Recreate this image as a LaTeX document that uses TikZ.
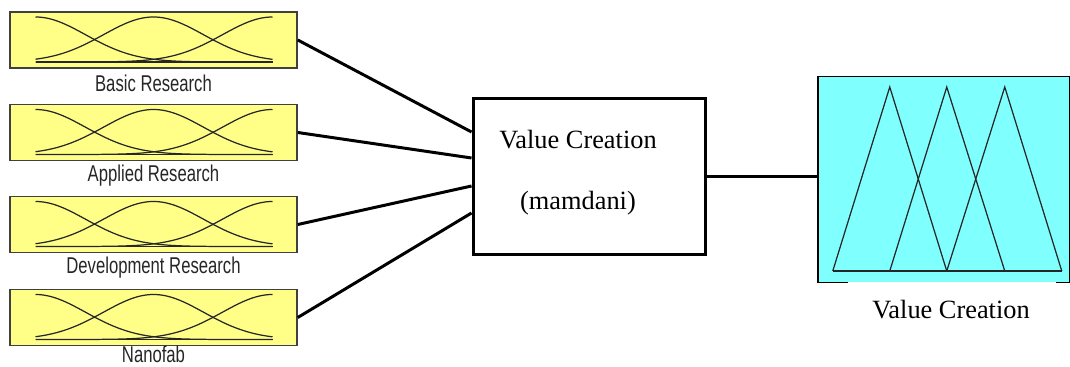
\documentclass[tikz,border=0pt]{standalone}
\usepackage{fontspec}
\setmainfont{Liberation Serif}
\newfontfamily\narrowsans[FakeStretch=0.73]{Liberation Sans}
\usepackage{tikz}
\usetikzlibrary{calc,positioning}
\definecolor{mfyellow}{RGB}{255,255,136}
\definecolor{mfcyan}{RGB}{128,255,255}
\tikzset{
  input box/.style={draw=black!75,line width=0.9pt,fill=mfyellow,
    minimum width=5.74cm,minimum height=1.12cm,inner sep=0pt},
  input label/.style={font=\narrowsans\fontsize{13}{14}\selectfont,text=black!85,inner sep=0pt},
  mf curve/.style={draw=black!85,line width=0.7pt},
  fis box/.style={draw,line width=1.7pt,minimum width=4.66cm,minimum height=3.14cm,inner sep=0pt},
  output box/.style={fill=mfcyan,minimum width=5.02cm,minimum height=4.1cm,inner sep=0pt},
  fis text/.style={font=\fontsize{15}{18}\selectfont},
  link/.style={line width=1.7pt},
}

\begin{document}
\begin{tikzpicture}[x=0.02cm,y=-0.02cm]
\useasboundingbox (0,0) rectangle (1070,367);
\foreach \name/\ypos/\dy/\txt in {bas/40/43/Basic Research,app/132.5/43.5/Applied Research,
    dev/224.5/43.5/Development Research,nano/317.5/37/Nanofab}{
  \node[input box] (\name) at (153.5,\ypos) {};
  \node[input label] (\name-lbl) at (153.5,\ypos+\dy) {\txt};
  \begin{scope}[shift={(\name.center)}]
    \draw[mf curve] (-118,22) -- (119,22);
    \foreach \c in {-118,0,119}
      \draw[mf curve] plot[domain=-118:119,samples=80]
        (\x,{22-45*exp(-0.5*((\x-(\c))/50)*((\x-(\c))/50))});
  \end{scope}
}
\node[fis box] (fis) at (589.5,176.5) {};
\node[fis text] (fis-name) at (578,140) {Value Creation};
\node[fis text] (fis-type) at (578,203) {(mamdani)};

\node[output box] (out) at (943.75,179.5) {};
\draw[line width=0.8pt] ($(out.south west)+(30,0)$) -- (out.south west) -- (out.north west)
  -- (out.north east) -- (out.south east) -- +(-14,0);
\begin{scope}[shift={(out.center)}]
  \draw[mf curve] (-111,91.5) -- (118,91.5);
  \foreach \a/\b/\c in {-111/-54/3,-54/3/61,3/61/118}
    \draw[mf curve] (\a,91.5) -- (\b,-92.5) -- (\c,91.5);
\end{scope}
\node[fis text] (out-lbl) at (951,310) {Value Creation};

\draw[link] (bas.east) -- ($(fis.west)+(0,-44.5)$);
\draw[link] (app.east) -- ($(fis.west)+(0,-18.5)$);
\draw[link] (dev.east) -- ($(fis.west)+(0,9.5)$);
\draw[link] (nano.east) -- ($(fis.west)+(0,36.5)$);
\draw[link] (fis.east) -- (fis.east -| out.west);
\end{tikzpicture}
\end{document}
